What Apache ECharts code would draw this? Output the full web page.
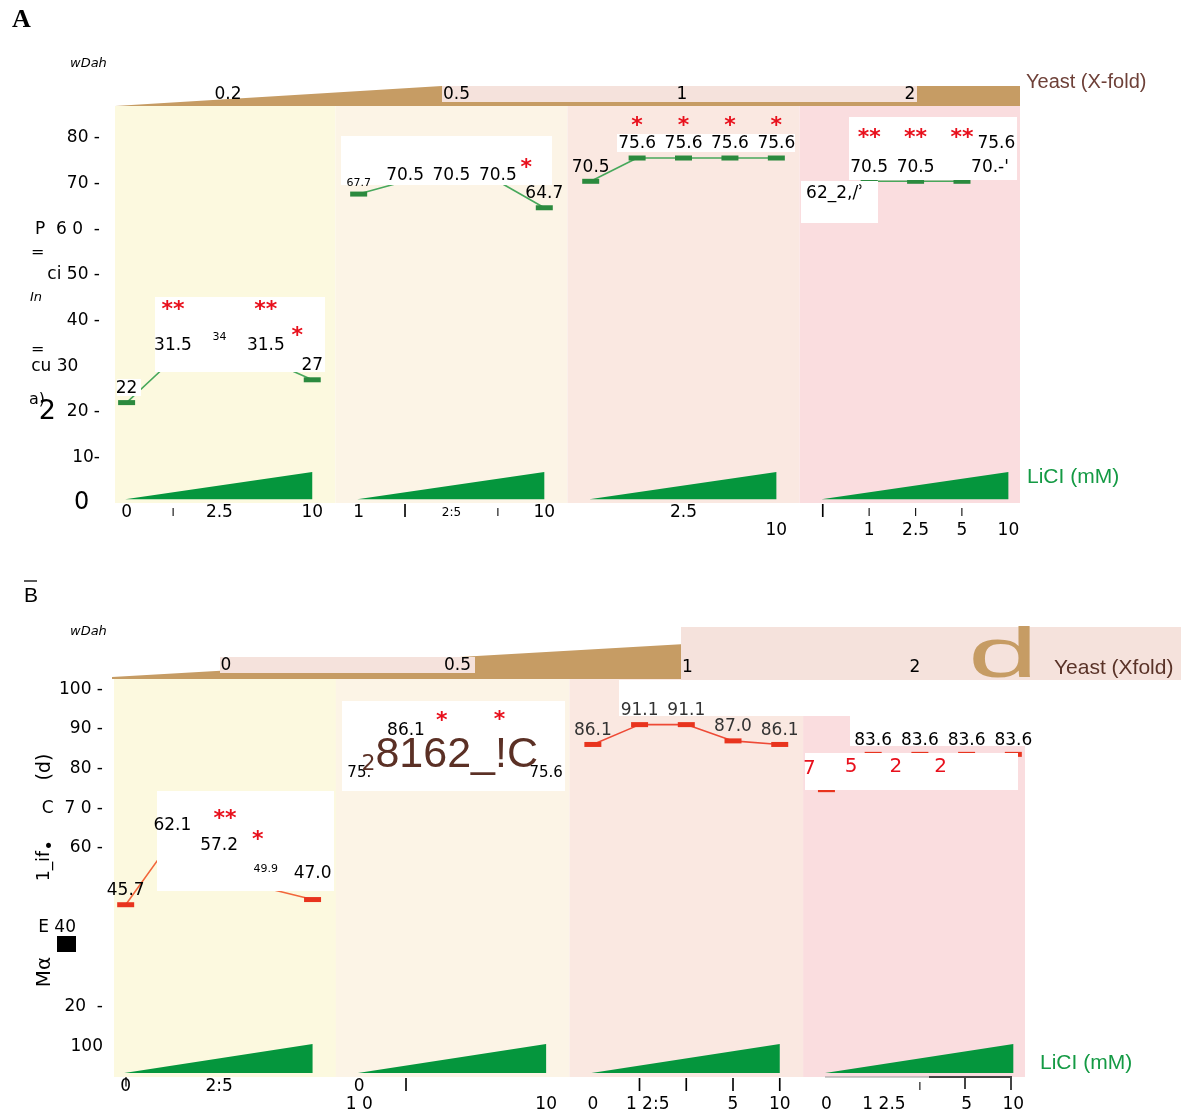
<!DOCTYPE html>
<html><head><meta charset="utf-8">
<script src="https://cdn.jsdelivr.net/npm/echarts@6/dist/echarts.min.js"></script>
<style>html,body{margin:0;padding:0;background:#fff}#c{width:1185px;height:1112px}</style>
</head><body><div id="c"></div>
<script>
// ================= DATA =================
const yeastLevelsA = ['0.2', '0.5', '1', '2'];
const yeastLevelsB = ['0', '0.5', '1', '2'];           // as printed in panel B
const liclLevels = [0, 1, 2.5, 5, 10];                 // mM, 5 doses per yeast level

// Panel A: lifespan per yeast level (green)
const valuesA = [
  [22, 31.5, 34, 31.5, 27],
  [67.7, 70.5, 70.5, 70.5, 64.7],
  [70.5, 75.6, 75.6, 75.6, 75.6],
  [62.2, 70.5, 70.5, 70.5, 75.6]
];
// Panel B: lifespan per yeast level (red)
const valuesB = [
  [45.7, 62.1, 57.2, 49.9, 47.0],
  [75.6, 86.1, 81.6, 82.2, 75.6],
  [86.1, 91.1, 91.1, 87.0, 86.1],
  [74.7, 83.6, 83.6, 83.6, 83.6]
];
// value labels as printed
const valLabelsA = [
  ['22', '31.5', '{s|34}', '31.5', '27'],
  ['{s|67.7}', '70.5', '70.5', '70.5', '64.7'],
  ['70.5', '75.6', '75.6', '75.6', '75.6'],
  ['62_2,/ʾ', '70.5', '70.5', "70.-'", '75.6']
];
const valLabelsB = [
  ['45.7', '62.1', '57.2', '{s|49.9}', '47.0'],
  ['{m|75.}', '86.1', '{sub|2}{big|8162_!C}', '', '{m|75.6}'],
  ['86.1', '91.1', '91.1', '87.0', '86.1'],
  ['', '83.6', '83.6', '83.6', '83.6']
];
// significance marks as printed
const starsA = [['', '**', '', '**', '*'], ['', '', '', '', '*'], ['', '*', '*', '*', '*'], ['', '**', '**', '**', '']];
const starsB = [['', '', '**', '*', ''], ['', '', '*', '*', ''], ['', '', '', '', ''], ['7', '5', '2', '2', '']];

// tick labels
const yTicksA = [0, 10, 20, 30, 40, 50, 60, 70, 80];
const yTickTextA = ['{b|0}  ', '10-', '{big|2}  20 -', 'cu 30    ', '40 -', 'ci 50 -', 'P  6 0  -', '70 -', '80 -'];
const yTicksB = [10, 20, 40, 60, 70, 80, 90, 100];
const yTickTextB = ['100', '20  -', 'E 40     ', '•   60 -', 'C  7 0 -', '80 -', '90 -', '100 -'];
const xTickTextA = ['0', '{s|I}', '2.5', '', '10', '1', 'I', '{xs|2:5}', '{s|I}', '10', '', '', '2.5', '', '\n10', 'I', '{s|I}\n1', '{s|I}\n2.5', '{s|I}\n5', '\n10'];
const xTickTextB = ['0', '', '2:5', '', '', '0\n1 0', 'I', '', '', '\n10', '\n0', 'I\n   1 2:5', 'I', 'I\n5', 'I\n10', '\n0', '\n    1 2.5', '{s|I}', '\n5', '\n10'];

// ================= STYLE =================
const FONT = '"DejaVu Sans", sans-serif';
const bgColors = ['#fcf9df', '#fcf4e6', '#fae8e1', '#fadddf'];
const groupEdges = [-0.25, 4.5, 9.5, 14.5, 19.25];
const BROWN = '#c69c64', PINK = '#f5e2dc', WEDGE = '#05963d';

const labelTweaks = {
  'A-1-1': {offset: [0, 8]}, 'A-1-2': {offset: [0, 8]}, 'A-1-3': {offset: [0, 8]},
  'A-3-0': {offset: [12, -12]}, 'A-3-3': {offset: [28, 0]}, 'A-3-4': {offset: [-12, 0]},
  'B-0-3': {offset: [0, -8]}, 'B-0-4': {offset: [0, -12]},
  'B-1-2': {position: 'inside', offset: [-3, -7]}
};
const starTweaks = {
  'A-0-1': {distance: 37}, 'A-0-3': {distance: 37}, 'A-0-4': {offset: [-15, 0]},
  'A-1-4': {offset: [-18, 0], distance: 28},
  'A-2-1': {distance: 20}, 'A-2-2': {distance: 20}, 'A-2-3': {distance: 20}, 'A-2-4': {distance: 20},
  'B-0-2': {distance: 28, offset: [6, 0]}, 'B-0-3': {distance: 36, offset: [-8, 0]},
  'B-1-2': {distance: 30, offset: [-11, 0]}, 'B-1-3': {distance: 28},
  'B-3-0': {distance: 10, offset: [-17, 0], fontSize: 20, fontWeight: 'normal'},
  'B-3-1': {position: 'bottom', distance: 2, offset: [-22, 0], fontSize: 20, fontWeight: 'normal'},
  'B-3-2': {position: 'bottom', distance: 2, offset: [-24, 0], fontSize: 20, fontWeight: 'normal'},
  'B-3-3': {position: 'bottom', distance: 2, offset: [-26, 0], fontSize: 20, fontWeight: 'normal'}
};

function buildPanel(cfg) {
  const s = [];
  const ax = {xAxisIndex: cfg.xi, yAxisIndex: cfg.yi};
  // background bands per yeast level
  s.push(Object.assign({type: 'line', data: [], z: 0, silent: true,
    markArea: {silent: true, data: bgColors.map((c, g) => [
      {xAxis: groupEdges[g], yAxis: cfg.bgLo, itemStyle: {color: c, opacity: 1}},
      {xAxis: groupEdges[g + 1], yAxis: cfg.bgHi}])}}, ax));
  cfg.values.forEach((vals, g) => {
    // LiCl dose wedge
    s.push(Object.assign({type: 'line', z: 1, silent: true, symbol: 'none',
      data: [[g * 5 - 0.03, cfg.wedgeLo], [g * 5 + 4, cfg.wedgeHi]],
      lineStyle: {width: 0}, areaStyle: {color: WEDGE, opacity: 1, origin: cfg.wedgeLo}}, ax));
    // lifespan line
    s.push(Object.assign({type: 'line', z: 3, silent: true, symbol: 'rect', symbolSize: [17, 5], showSymbol: true,
      data: vals.map((v, i) => [g * 5 + i, v]),
      itemStyle: {color: cfg.markerColor}, lineStyle: {color: cfg.lineColors[g], width: 1.6}}, ax));
  });
  const labData = [], starData = [];
  cfg.values.forEach((vals, g) => vals.forEach((v, i) => {
    const key = cfg.id + '-' + g + '-' + i;
    const t = cfg.labels[g][i];
    if (t) labData.push({value: [g * 5 + i, v], label: Object.assign({formatter: t}, cfg.labelGroupStyle[g] || {}, labelTweaks[key] || {})});
    const st = cfg.stars[g][i];
    if (st) starData.push({value: [g * 5 + i, v], label: Object.assign({formatter: st}, starTweaks[key] || {})});
  }));
  s.push(Object.assign({type: 'scatter', z: 10, silent: true, symbolSize: 1, itemStyle: {color: 'rgba(0,0,0,0)', opacity: 1},
    label: {show: true, opacity: 1, position: 'top', distance: 5, color: '#000', fontSize: 17, fontFamily: FONT,
      rich: {s: {fontSize: 11, fontFamily: FONT, color: '#000'}, m: {fontSize: 15, fontFamily: FONT, color: '#000'},
        big: {fontSize: 43, fontFamily: '"Liberation Sans", sans-serif', color: '#5b3025'},
        sub: {fontSize: 22, fontFamily: FONT, color: '#5b3025', padding: [18, 0, 0, 0]}}},
    data: labData}, ax));
  s.push(Object.assign({type: 'scatter', z: 10, silent: true, symbolSize: 1, itemStyle: {color: 'rgba(0,0,0,0)', opacity: 1},
    label: {show: true, opacity: 1, position: 'top', distance: 32, color: '#e8101c', fontSize: 22, fontWeight: 'bold', fontFamily: FONT},
    data: starData}, ax));
  return s;
}

function xMain(gi, texts, offset) {
  return {gridIndex: gi, type: 'value', min: -0.25, max: 19.25, offset: offset,
    axisLine: {show: false}, axisTick: {show: false}, splitLine: {show: false},
    axisLabel: {customValues: texts.map((t, i) => i), formatter: v => texts[Math.round(v)] || '',
      fontSize: 17, fontFamily: FONT, color: '#000', lineHeight: 18, margin: 1, hideOverlap: false,
      rich: {s: {fontSize: 11, lineHeight: 18, fontFamily: FONT, color: '#000'}, xs: {fontSize: 12, lineHeight: 18, fontFamily: FONT, color: '#000'}}}};
}
function hiddenAxis(gi) {
  return {gridIndex: gi, type: 'value', min: 0, max: 1, show: false};
}

const seriesA = buildPanel({id: 'A', xi: 1, yi: 1, values: valuesA, labels: valLabelsA, stars: starsA,
  bgLo: 0, bgHi: 87, wedgeLo: 0.8, wedgeHi: 6.8, markerColor: '#2b8a3e',
  lineColors: ['#48a85c', '#48a85c', '#48a85c', '#48a85c'], labelGroupStyle: []});
const seriesB = buildPanel({id: 'B', xi: 3, yi: 3, values: valuesB, labels: valLabelsB, stars: starsB,
  bgLo: 2.3, bgHi: 102.6, wedgeLo: 3.3, wedgeHi: 10.6, markerColor: '#e8341e',
  lineColors: ['#f2673c', '#ee4a36', '#ee4a36', '#ee4a36'], labelGroupStyle: [{}, {}, {color: '#333'}, {}]});

// yeast dose wedges (top bars)
const yeastSeries = [
  {type: 'line', xAxisIndex: 0, yAxisIndex: 0, silent: true, symbol: 'none', z: 1,
    data: [[0, 0], [0.361, 1], [1, 1]], lineStyle: {width: 0}, areaStyle: {color: BROWN, opacity: 1}},
  {type: 'line', xAxisIndex: 2, yAxisIndex: 2, silent: true, symbol: 'none', z: 1,
    data: [[0, 0.04], [0.623, 0.67], [1, 1]], lineStyle: {width: 0}, areaStyle: {color: BROWN, opacity: 1}}
];

// ================= DECORATION (text & overlays) =================
const G = [];
function T(x, y, text, st, extra) {
  G.push(Object.assign({type: 'text', x: x, y: y, z: 20, silent: true,
    style: Object.assign({text: text, fill: '#000', fontSize: 17, fontFamily: FONT, align: 'left', verticalAlign: 'middle'}, st || {})}, extra || {}));
}
function R(x, y, w, h, fill, z) {
  G.push({type: 'rect', z: z || 5, silent: true, shape: {x: x, y: y, width: w, height: h}, style: {fill: fill}});
}
// panel A
T(12, 20, 'A', {fontSize: 26, fontWeight: 'bold', fontFamily: '"Liberation Serif", "DejaVu Serif", serif'});
T(70, 64, 'wDah', {fontSize: 13, fontStyle: 'italic'});
R(442, 86, 475, 16, PINK, 2);
T(228, 95, yeastLevelsA[0], {align: 'center'});
T(443, 95, yeastLevelsA[1]);
T(682, 95, yeastLevelsA[2], {align: 'center'});
T(910, 95, yeastLevelsA[3], {align: 'center'});
T(1026, 82, 'Yeast (X-fold)', {fontSize: 20, fill: '#6e4038', fontFamily: '"Liberation Sans", sans-serif'});
T(1027, 477, 'LiCI (mM)', {fontSize: 21, fill: '#149a44', fontFamily: '"Liberation Sans", sans-serif'});
T(31, 253, '=', {fontSize: 16});
T(30, 298, 'In', {fontSize: 13, fontStyle: 'italic'});
T(31, 350, '=', {fontSize: 16});
T(29, 400, 'a)', {fontSize: 16});
R(155, 297, 170, 75, '#fff');
R(341, 136, 211, 49, '#fff');
R(617, 134, 178, 18, '#fff');
R(849, 117, 168, 63, '#fff');
R(801, 181, 77, 42, '#fff');
R(117, 379, 24, 17, '#fff');
// panel B
T(24, 596, 'B', {fontSize: 21, fontFamily: '"Liberation Sans", sans-serif'});
G.push({type: 'line', z: 20, silent: true, shape: {x1: 24, y1: 581, x2: 37, y2: 581}, style: {stroke: '#222', lineWidth: 1.5}});
T(70, 632, 'wDah', {fontSize: 13, fontStyle: 'italic'});
R(220, 657, 255, 16, PINK, 2);
R(681, 627, 500, 53, PINK, 2);
T(968, 693, 'd', {fontSize: 70, fill: BROWN, fontFamily: '"Liberation Sans", sans-serif', verticalAlign: 'bottom'}, {scaleX: 1.8, z: 3});
T(226, 666, yeastLevelsB[0], {align: 'center'});
T(444, 666, yeastLevelsB[1]);
T(682, 668, yeastLevelsB[2]);
T(915, 668, yeastLevelsB[3], {align: 'center'});
T(1054, 668, 'Yeast (Xfold)', {fontSize: 21, fill: '#5a3328', fontFamily: '"Liberation Sans", sans-serif'});
T(1040, 1063, 'LiCI (mM)', {fontSize: 21, fill: '#149a44', fontFamily: '"Liberation Sans", sans-serif'});
T(45, 767, '(d)', {fontSize: 19, align: 'center'}, {rotation: Math.PI / 2});
T(45, 866, '1_if', {fontSize: 17, align: 'center'}, {rotation: Math.PI / 2});
T(45, 972, 'Mα', {fontSize: 20, align: 'center'}, {rotation: Math.PI / 2});
R(57, 936, 19, 16, '#000', 20);
R(157, 791, 177, 100, '#fff');
R(342, 701, 223, 90, '#fff');
R(619, 680, 407, 36, '#fff');
R(850, 716, 176, 30, '#fff');
R(805, 753, 213, 37, '#fff');
G.push({type: 'polyline', z: 20, silent: true, shape: {points: [[825, 1077], [929, 1077]]}, style: {stroke: '#999', lineWidth: 1, fill: null}});
G.push({type: 'polyline', z: 20, silent: true, shape: {points: [[929, 1077], [1011, 1077], [1011, 1090]]}, style: {stroke: '#444', lineWidth: 2, fill: null}});
G.push({type: 'line', z: 20, silent: true, shape: {x1: 965, y1: 1077, x2: 965, y2: 1089}, style: {stroke: '#444', lineWidth: 2}});

// ================= CHART =================
const chart = echarts.init(document.getElementById('c'), null, {renderer: 'canvas'});
chart.setOption({
  animation: false,
  backgroundColor: '#fff',
  grid: [
    {left: 115, right: 165, top: 86, height: 20, outerBoundsMode: 'none'},
    {left: 115, right: 165, top: 106, bottom: 1112 - 503, outerBoundsMode: 'none'},
    {left: 112, right: 160, top: 627, height: 52, outerBoundsMode: 'none'},
    {left: 114, right: 160, top: 679, bottom: 26, outerBoundsMode: 'none'}
  ],
  xAxis: [hiddenAxis(0), xMain(1, xTickTextA, 0), hiddenAxis(2), xMain(3, xTickTextB, -9)],
  yAxis: [
    hiddenAxis(0),
    {gridIndex: 1, type: 'value', min: 0, max: 87, interval: 10,
      axisLine: {show: false}, axisTick: {show: false}, splitLine: {show: false},
      axisLabel: {margin: 15, fontSize: 17, fontFamily: FONT, color: '#000',
        formatter: v => { const k = yTicksA.indexOf(v); return k < 0 ? '' : yTickTextA[k]; },
        rich: {b: {fontSize: 24, fontFamily: FONT, color: '#000'}, big: {fontSize: 27, fontFamily: FONT, color: '#000'}}}},
    hiddenAxis(2),
    {gridIndex: 3, type: 'value', min: 0, max: 102.6, interval: 10,
      axisLine: {show: true, lineStyle: {color: '#333', width: 1.5}}, axisTick: {show: false}, splitLine: {show: false},
      axisLabel: {margin: 11, fontSize: 17, fontFamily: FONT, color: '#000',
        formatter: v => { const k = yTicksB.indexOf(v); return k < 0 ? '' : yTickTextB[k]; }}}
  ],
  series: yeastSeries.concat(seriesA, seriesB),
  graphic: {elements: G}
});
</script></body></html>
